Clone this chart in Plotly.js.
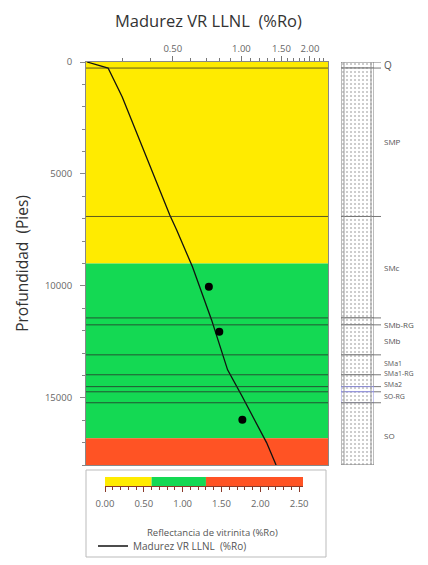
<!DOCTYPE html>
<html>
<head>
<meta charset="utf-8">
<script src="https://cdn.plot.ly/plotly-3.0.1.min.js"></script>
<style>html,body{margin:0;padding:0;background:#fff;}#chart{width:428px;height:565px;}</style>
</head>
<body>
<div id="chart"></div>
<script>
// ---- data ----
const curveRo    = [0.21, 0.26, 0.30, 0.485, 0.52, 0.61, 0.74, 0.87, 1.01, 1.29, 1.42];
const curveDepth = [0, 270, 1560, 6830, 7500, 9150, 11520, 13750, 14950, 17000, 18000];
const sampleRo    = [0.72, 0.80, 1.01];
const sampleDepth = [10040, 12050, 15980];

const bandTop    = [0, 9000, 16800];
const bandBottom = [9000, 16800, 18000];
const bandColors = ['#FFEB00', '#14D953', '#FF5324'];

const formationNames = ['Q', 'SMP', 'SMc', 'SMb-RG', 'SMb', 'SMa1', 'SMa1-RG', 'SMa2', 'SO-RG', 'SO'];
const formationTop    = [0, 270, 6900, 11430, 11740, 13080, 13970, 14500, 14730, 15220];
const formationBottom = [270, 6900, 11430, 11740, 13080, 13970, 14500, 14730, 15220, 18000];
const labelDepth      = [150, 3570, 9200, 11740, 12450, 13450, 13930, 14420, 14950, 16700];

const scaleStart  = [0, 0.6, 1.3];
const scaleEnd    = [0.6, 1.3, 2.55];
const scaleColors = ['#FFEB00', '#14D953', '#FF5324'];
const scaleTicks  = [0, 0.5, 1.0, 1.5, 2.0, 2.5];
const scaleTickText = ['0.00', '0.50', '1.00', '1.50', '2.00', '2.50'];

const topTicks = [0.5, 1.0, 1.5, 2.0];
const topTickText = ['0.50', '1.00', '1.50', '2.00'];
const topMinor = [0.3, 0.4, 0.6, 0.7, 0.8, 0.9, 1.1, 1.2, 1.3, 1.4, 1.6, 1.7, 1.8, 1.9, 2.1, 2.2, 2.3];

const depthTicks = [0, 5000, 10000, 15000];
const depthTickText = ['0', '5000', '10000', '15000'];

// ---- layout helpers ----
const W = 428, H = 565;
const px = v => v / W;
const py = v => 1 - v / H;
const FONT = 'Open Sans, Liberation Sans, sans-serif';
const TXT = '#666';

const traces = [];
traces.push({
  x: curveRo, y: curveDepth, type: 'scatter', mode: 'lines',
  line: {color: '#111', width: 1.3}, name: 'Madurez VR LLNL  (%Ro)',
  xaxis: 'x', yaxis: 'y', showlegend: true
});
traces.push({
  x: sampleRo, y: sampleDepth, type: 'scatter', mode: 'markers',
  marker: {color: '#000', size: 8}, xaxis: 'x', yaxis: 'y', showlegend: false
});
// lithology column
traces.push({
  type: 'bar', orientation: 'v',
  x: formationNames.map(() => 0),
  base: formationTop,
  y: formationTop.map((t, i) => formationBottom[i] - t),
  width: 1,
  marker: {
    color: '#ffffff',
    line: {color: formationNames.map(n => (n === 'SMa2' || n === 'SO-RG') ? '#8a8ad8' : '#777'), width: 1},
    pattern: {shape: '.', fgcolor: '#bdbdbd', bgcolor: '#ffffff', size: 4, solidity: 0.2}
  },
  xaxis: 'x2', yaxis: 'y2', showlegend: false, hoverinfo: 'skip'
});
// scale bar
traces.push({
  type: 'bar', orientation: 'h',
  y: scaleStart.map(() => 0), base: scaleStart,
  x: scaleStart.map((s, i) => scaleEnd[i] - s),
  width: 1, marker: {color: scaleColors, line: {width: 0}},
  xaxis: 'x3', yaxis: 'y3', showlegend: false, hoverinfo: 'skip'
});

const shapes = [];
bandTop.forEach((t, i) => shapes.push({
  type: 'rect', xref: 'x domain', yref: 'y', x0: 0, x1: 1, y0: t, y1: bandBottom[i],
  fillcolor: bandColors[i], line: {width: 0}, layer: 'below'
}));
formationTop.slice(1).forEach(t => shapes.push({
  type: 'line', xref: 'x domain', yref: 'y', x0: 0, x1: 1, y0: t, y1: t,
  line: {color: 'rgba(40,40,40,0.75)', width: 1}, layer: 'above'
}));
// column boundary ticks to labels
formationTop.forEach(t => shapes.push({
  type: 'line', xref: 'paper', yref: 'y2', x0: px(374), x1: px(381), y0: t, y1: t,
  line: {color: '#777', width: 1}
}));
// inner column lines (double border)
shapes.push({type: 'line', xref: 'paper', yref: 'paper', x0: px(344), x1: px(344), y0: py(465), y1: py(62), line: {color: '#999', width: 1}});
shapes.push({type: 'line', xref: 'paper', yref: 'paper', x0: px(371), x1: px(371), y0: py(465), y1: py(62), line: {color: '#999', width: 1}});
// legend box
shapes.push({type: 'rect', xref: 'paper', yref: 'paper', x0: px(86), x1: px(326), y0: py(557), y1: py(470),
  line: {color: '#bbb', width: 1}, fillcolor: 'rgba(0,0,0,0)'});

const crowded = ['SMa1', 'SMa1-RG', 'SMa2', 'SO-RG'];
const annotations = [];
formationNames.forEach((n, i) => annotations.push({
  text: n, xref: 'paper', yref: 'y2', x: px(382), y: labelDepth[i],
  xanchor: 'left', yanchor: 'middle', showarrow: false,
  font: {family: FONT, size: n === 'Q' ? 10 : (crowded.includes(n) ? 7 : 8), color: '#555'}
}));
annotations.push({
  text: 'Reflectancia de vitrinita (%Ro)', xref: 'paper', yref: 'paper',
  x: px(212), y: py(532), xanchor: 'center', yanchor: 'middle', showarrow: false,
  font: {family: FONT, size: 9.5, color: '#555'}
});
annotations.push({
  text: 'Madurez VR LLNL  (%Ro)', xref: 'paper', yref: 'paper',
  x: px(208), y: py(20), xanchor: 'center', yanchor: 'middle', showarrow: false,
  font: {family: FONT, size: 16.5, color: '#333'}
});

const layout = {
  width: W, height: H,
  margin: {l: 0, r: 0, t: 0, b: 0},
  paper_bgcolor: '#fff', plot_bgcolor: '#fff',
  font: {family: FONT, color: TXT},
  barmode: 'overlay',
  showlegend: true,
  legend: {x: px(93), y: py(546), xanchor: 'left', yanchor: 'middle',
    bgcolor: 'rgba(0,0,0,0)', itemwidth: 30,
    font: {family: FONT, size: 10, color: '#555'}},
  xaxis: {
    type: 'log', domain: [px(86), px(328)], range: [Math.log10(0.208), Math.log10(2.4)],
    side: 'top', anchor: 'y',
    tickmode: 'array', tickvals: topTicks, ticktext: topTickText,
    ticks: 'outside', ticklen: 5, tickcolor: '#777',
    minor: {tickmode: 'array', tickvals: topMinor, ticks: 'outside', ticklen: 3, tickcolor: '#777'},
    tickfont: {family: FONT, size: 9.5, color: TXT},
    showgrid: false, zeroline: false,
    showline: true, mirror: true, linecolor: '#888', linewidth: 1
  },
  yaxis: {
    domain: [py(465), py(62)], range: [18000, 0], anchor: 'x',
    tickmode: 'array', tickvals: depthTicks, ticktext: depthTickText,
    ticks: 'outside', ticklen: 5, tickcolor: '#888',
    minor: {dtick: 1000, ticks: 'outside', ticklen: 3, tickcolor: '#888'},
    tickfont: {family: FONT, size: 9.5, color: TXT},
    ticklabelstandoff: 6,
    showgrid: false, zeroline: false,
    showline: true, mirror: true, linecolor: '#888', linewidth: 1,
    title: {text: 'Profundidad  (Pies)', font: {family: FONT, size: 15.5, color: '#333'}, standoff: 12}
  },
  xaxis2: {domain: [px(341), px(374)], range: [-0.5, 0.5], anchor: 'y2', visible: false, fixedrange: true},
  yaxis2: {domain: [py(465), py(62)], matches: 'y', anchor: 'x2', visible: false},
  xaxis3: {
    domain: [px(105), px(303)], range: [0, 2.55], anchor: 'y3',
    tickmode: 'array', tickvals: scaleTicks, ticktext: scaleTickText,
    ticks: 'outside', ticklen: 5, tickcolor: '#8a3a2a',
    minor: {dtick: 0.1, ticks: 'outside', ticklen: 3, tickcolor: '#8a3a2a'},
    tickfont: {family: FONT, size: 9.5, color: TXT},
    ticklabelstandoff: 4,
    showline: true, linecolor: '#8a3a2a', linewidth: 1,
    showgrid: false, zeroline: false
  },
  yaxis3: {domain: [py(486), py(477)], range: [-0.5, 0.5], anchor: 'x3', visible: false},
  shapes: shapes,
  annotations: annotations
};

Plotly.newPlot('chart', traces, layout, {displayModeBar: false, staticPlot: true});
</script>
</body>
</html>
